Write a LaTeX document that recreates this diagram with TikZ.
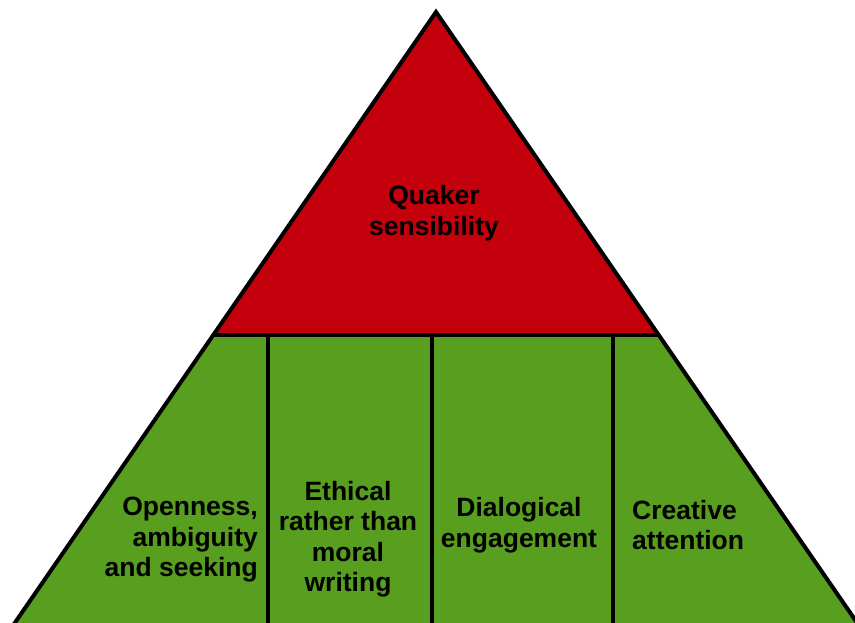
\documentclass[tikz,border=0pt]{standalone}
\usepackage{fontspec}
\setmainfont{Liberation Sans}
\usetikzlibrary{calc}
\definecolor{quakerred}{HTML}{C4000C}
\definecolor{tiergreen}{HTML}{589F1F}

\begin{document}
\begin{tikzpicture}[x=1pt,y=-1pt,font=\fontsize{26.5}{30.5}\selectfont\bfseries,
  tiertext/.style={align=center,inner sep=0pt},
  edge/.style={draw=black,line width=4pt}]
  \clip (0,0) rectangle (855,623);
  \useasboundingbox (0,0) rectangle (855,623);
  % Triangle corners and the split line
  \coordinate (apex) at (436,12);
  \coordinate (bl) at (13,625.5);
  \coordinate (br) at (859,625.5);
  \coordinate (ml) at ($(apex)!0.5264!(bl)$);
  \coordinate (mr) at ($(apex)!0.5264!(br)$);
  % Top: red
  \fill[quakerred] (apex) -- (ml) -- (mr) -- cycle;
  % Bottom: green
  \fill[tiergreen] (ml) -- (bl) -- (br) -- (mr) -- cycle;
  % Dividers
  \draw[edge] (ml) -- (mr);
  \draw[edge] (268,335) -- (268,625);
  \draw[edge] (432,335) -- (432,625);
  \draw[edge] (613,335) -- (613,625);
  % Outline
  \draw[edge] (apex) -- (bl) -- (br) -- cycle;
  % Texts
  \node[tiertext] (quaker) at (434,213) {Quaker\\sensibility};
  \node[tiertext,align=right,anchor=east] (open) at (258,540) {Openness,\\ambiguity\\and seeking};
  \node[tiertext] (ethic) at (348,539) {Ethical\\rather than\\moral\\writing};
  \node[tiertext] (dialog) at (519,525) {Dialogical\\engagement};
  \node[tiertext,align=left,anchor=west] (creative) at (632,525) {Creative\\attention};
\end{tikzpicture}
\end{document}
